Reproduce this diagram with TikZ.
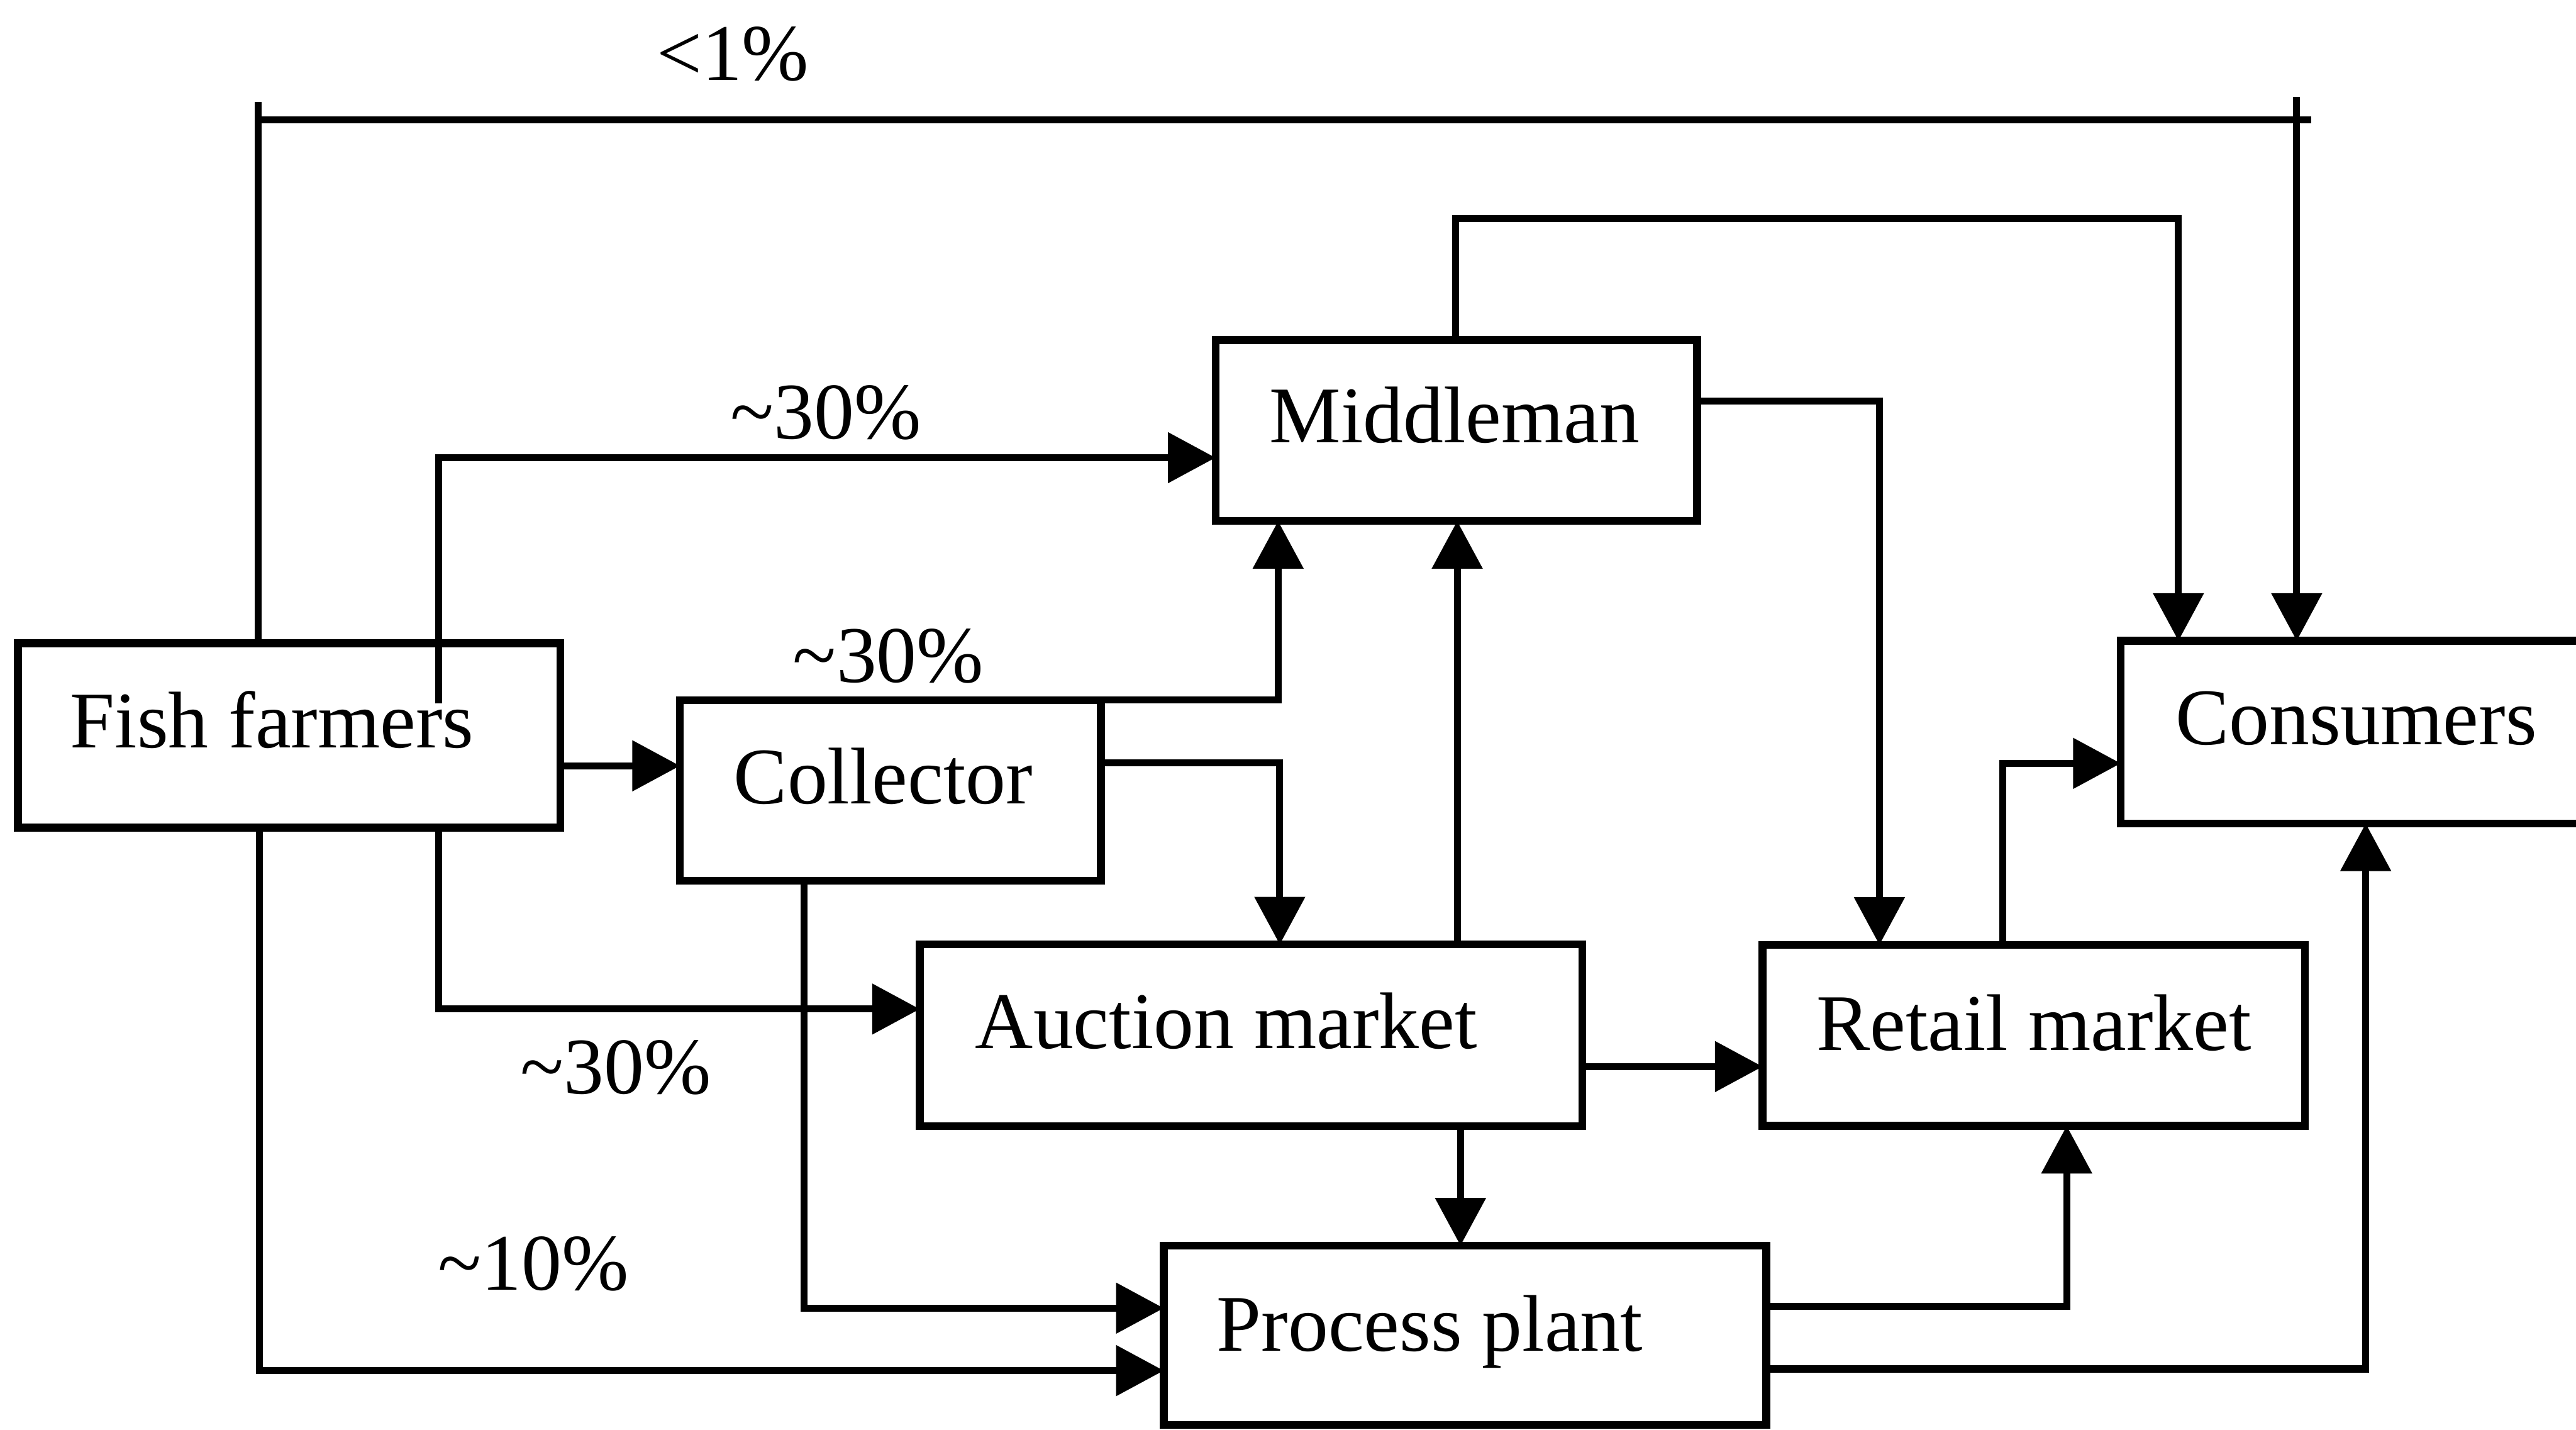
\documentclass[tikz,border=0pt]{standalone}
\usepackage{fontspec}
\setmainfont{Liberation Serif}
\usetikzlibrary{arrows.meta}
\begin{document}
\begin{tikzpicture}[x=0.01cm,y=-0.01cm,
  unitbox/.style={draw, line width=1.35pt, rectangle, inner sep=0pt, outer sep=0pt},
  flow/.style={line width=1.2pt, -{Triangle[length=0.29cm,width=0.30cm]}},
  plain/.style={line width=1.2pt},
  lbl/.style={inner sep=0pt, anchor=base west, font=\fontsize{13.9}{16}\selectfont}]
\useasboundingbox (0,0) rectangle (1568,870);

% boxes of the supply chain
\node[unitbox, minimum width=3.30cm, minimum height=1.12cm] (fish) at (176,447.5) {};
\node[unitbox, minimum width=2.56cm, minimum height=1.10cm] (coll) at (542,481) {};
\node[unitbox, minimum width=2.93cm, minimum height=1.10cm] (mid)  at (886.5,262) {};
\node[unitbox, minimum width=4.03cm, minimum height=1.105cm] (auc) at (761.5,630) {};
\node[unitbox, minimum width=3.30cm, minimum height=1.10cm] (ret)  at (1238,630) {};
\node[unitbox, minimum width=3.665cm, minimum height=1.09cm] (proc) at (891.75,812.5) {};
\node[unitbox, minimum width=2.85cm, minimum height=1.11cm] (cons) at (1433.5,445.5) {};

% box titles
\node[lbl] (tfish) at (42,455) {Fish farmers};
\node[lbl] (tcoll) at (446,489) {Collector};
\node[lbl] (tmid)  at (772,269.5) {Middleman};
\node[lbl] (tauc)  at (593,638) {Auction market};
\node[lbl] (tret)  at (1105,639) {Retail market};
\node[lbl] (tproc) at (740,822) {Process plant};
\node[lbl] (tcons) at (1323.5,453) {Consumers};

% share labels
\node[lbl] (pdirect) at (399,49) {<1\%};
\node[lbl] (pmid)    at (444,267) {\textasciitilde30\%};
\node[lbl] (pcoll)   at (482,415) {\textasciitilde30\%};
\node[lbl] (pauc)    at (316,665.5) {\textasciitilde30\%};
\node[lbl] (pproc)   at (266,785) {\textasciitilde10\%};

% bend points of the routes
\coordinate (t1) at (157,73);
\coordinate (t2) at (1398,73);
\coordinate (fishin) at (267,428);
\coordinate (m1) at (267,278.5);
\coordinate (fc) at (0,466);
\coordinate (cm) at (778,0);
\coordinate (ca) at (779,464);
\coordinate (fa) at (267,614);
\coordinate (fp) at (158,834);
\coordinate (cp) at (489.5,796);
\coordinate (am) at (887,0);
\coordinate (ap) at (889,0);
\coordinate (ar) at (0,649);
\coordinate (mtop) at (886,0);
\coordinate (mc) at (1326,133);
\coordinate (mr) at (1144,244);
\coordinate (rc) at (1219,464.5);
\coordinate (pr) at (1258,795);
\coordinate (pc) at (1440,833);

% direct sales from farmers to consumers
\draw[flow] (fish.north -| t1) -- (t1) -- (t2) -- (cons.north -| t2);
\draw[plain] (t1) -- ++(0,-11);
\draw[plain] (t2) -- ++(9,0);
\draw[plain] (t2) -- ++(0,-14);

% routes out of the farms
\draw[flow] (fishin) |- (mid.west |- m1);
\draw[flow] (fish.east |- fc) -- (coll.west |- fc);
\draw[flow] (fish.south -| fa) |- (auc.west |- fa);
\draw[flow] (fish.south -| fp) |- (proc.west |- fp);

% routes out of the collector
\draw[flow] (coll.north east) -| (mid.south -| cm);
\draw[flow] (coll.east |- ca) -| (auc.north -| ca);
\draw[flow] (coll.south -| cp) |- (proc.west |- cp);

% routes out of the auction market
\draw[flow] (auc.north -| am) -- (mid.south -| am);
\draw[flow] (auc.south -| ap) -- (proc.north -| ap);
\draw[flow] (auc.east |- ar) -- (ret.west |- ar);

% routes out of the middleman
\draw[flow] (mid.north -| mtop) |- (mc) -- (cons.north -| mc);
\draw[flow] (mid.east |- mr) -| (ret.north -| mr);

% retail and processing outlets
\draw[flow] (ret.north -| rc) |- (cons.west |- rc);
\draw[flow] (proc.east |- pr) -| (ret.south -| pr);
\draw[flow] (proc.east |- pc) -| (cons.south -| pc);
\end{tikzpicture}
\end{document}
